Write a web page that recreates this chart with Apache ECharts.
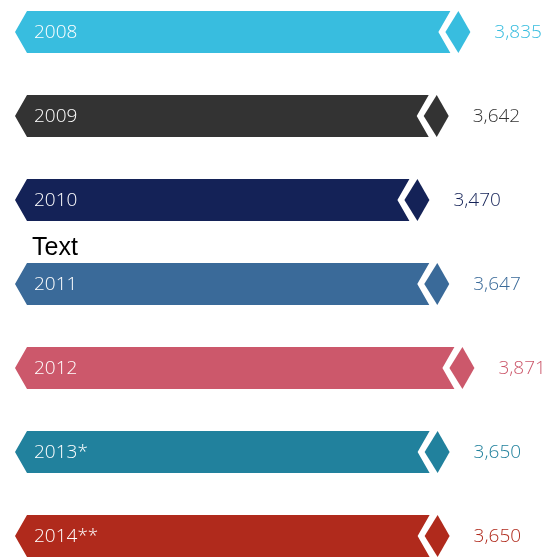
<!DOCTYPE html>
<html>
<head>
<meta charset="utf-8">
<script src="https://cdn.jsdelivr.net/npm/echarts@6/dist/echarts.min.js"></script>
<style>
  html, body { margin: 0; padding: 0; background: #ffffff; }
  #chart { width: 548px; height: 557px; }
</style>
</head>
<body>
<div id="chart"></div>
<script>
// Yearly totals, one arrow-shaped bar per year
const years = ['2008', '2009', '2010', '2011', '2012', '2013*', '2014**'];
const totals = [3835, 3642, 3470, 3647, 3871, 3650, 3650];
const barColors = ['#38bddf', '#333333', '#142257', '#3a6a99', '#cc586b', '#21819d', '#b02a1c'];

const chart = echarts.init(document.getElementById('chart'), null, { renderer: 'canvas' });

const seriesData = totals.map((v, i) => [v, i]);

function renderArrow(params, api) {
  const i = api.value(1);
  const end = api.coord([api.value(0), i]);
  const start = api.coord([0, i]);
  const xr = end[0];
  const yc = end[1];
  const x0 = start[0];
  const half = api.size([0, 1])[1] * 0.25;
  const color = barColors[i];

  // Main body: pointed tail on the left, notched on the right
  const body = [
    [x0 - 25, yc],
    [x0 - 13, yc - half],
    [xr - 20, yc - half],
    [xr - 32, yc],
    [xr - 20, yc + half],
    [x0 - 13, yc + half]
  ];
  // Diamond tip that sits in front of the notch
  const tip = [
    [xr - 12, yc - half],
    [xr, yc],
    [xr - 12, yc + half],
    [xr - 25, yc]
  ];

  return {
    type: 'group',
    children: [
      { type: 'polygon', shape: { points: body }, style: { fill: color } },
      { type: 'polygon', shape: { points: tip }, style: { fill: color } },
      {
        type: 'text',
        style: {
          x: x0 - 6, y: yc + 1,
          text: years[i],
          fill: '#ffffff',
          font: '300 19px "Open Sans", sans-serif',
          align: 'left',
          verticalAlign: 'middle'
        }
      },
      {
        type: 'text',
        style: {
          x: xr + 24, y: yc + 1,
          text: totals[i].toLocaleString('en-US'),
          fill: color,
          font: '300 19px "Open Sans", sans-serif',
          align: 'left',
          verticalAlign: 'middle'
        }
      }
    ]
  };
}

chart.setOption({
  backgroundColor: '#ffffff',
  animation: false,
  grid: { left: 40, top: 32, width: 505, height: 504 },
  xAxis: { type: 'value', min: 0, max: 4500, show: false },
  yAxis: { type: 'category', data: years, inverse: true, boundaryGap: false, show: false },
  graphic: [
    {
      type: 'text',
      x: 32,
      y: 248,
      style: {
        text: 'Text',
        fill: '#000000',
        font: '25px "Liberation Sans", Arial, sans-serif',
        align: 'left',
        verticalAlign: 'middle'
      }
    }
  ],
  series: [
    {
      type: 'custom',
      renderItem: renderArrow,
      encode: { x: 0, y: 1 },
      data: seriesData,
      clip: false
    }
  ]
});
</script>
</body>
</html>
